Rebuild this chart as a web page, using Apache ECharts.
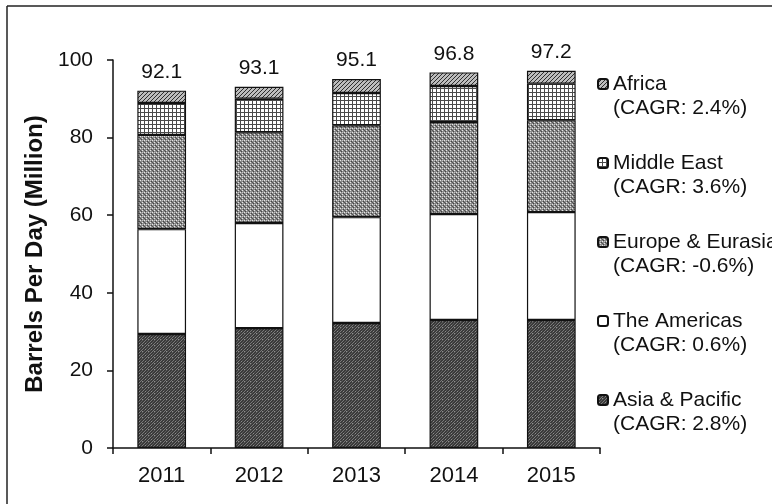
<!DOCTYPE html>
<html>
<head>
<meta charset="utf-8">
<script src="https://cdn.jsdelivr.net/npm/echarts@6/dist/echarts.min.js"></script>
<style>
  html, body { margin: 0; padding: 0; background: #ffffff; }
  #chart { width: 772px; height: 504px; }
</style>
</head>
<body>
<div id="chart"></div>
<script>
// World oil demand by region, million barrels per day
const years = ['2011', '2012', '2013', '2014', '2015'];
const asiaPacific   = [29.4, 30.9, 32.2, 33.0, 33.0];
const americas      = [27.0, 27.1, 27.3, 27.3, 27.8];
const europeEurasia = [24.3, 23.4, 23.7, 23.7, 23.7];
const middleEast    = [8.2, 8.6, 8.3, 9.3, 9.4];
const africa        = [3.2, 3.1, 3.6, 3.5, 3.3];
const regionNames = ['Asia & Pacific', 'The Americas', 'Europe & Eurasia', 'Middle East', 'Africa'];
const regionCagr  = ['2.8%', '0.6%', '-0.6%', '3.6%', '2.4%'];
const yTicks = { min: 0, max: 100, interval: 20 };

// Small tiled fills imitating the print hatches
function tile(size, draw) {
  const c = document.createElement('canvas');
  c.width = size; c.height = size;
  const g = c.getContext('2d');
  draw(g, size);
  return { image: c, repeat: 'repeat' };
}
function px(g, x, y, col) { g.fillStyle = col; g.fillRect(x, y, 1, 1); }

const fillAsia = tile(6, (g, s) => {
  g.fillStyle = '#3a3a3a'; g.fillRect(0, 0, s, s);
  for (let i = 0; i < s; i++) { px(g, i, (s - 1 - i) % s, '#7a7a7a'); px(g, (i + 3) % s, (s - 1 - i) % s, '#5e5e5e'); }
  px(g, 1, 1, '#8c8c8c'); px(g, 4, 3, '#8c8c8c');
});
const fillAmericas = '#ffffff';
const fillEurope = tile(4, (g, s) => {
  g.fillStyle = '#8a8a8a'; g.fillRect(0, 0, s, s);
  px(g, 0, 0, '#e6e6e6'); px(g, 2, 2, '#e6e6e6'); px(g, 1, 3, '#444444'); px(g, 3, 1, '#444444');
  px(g, 2, 0, '#c4c4c4'); px(g, 0, 2, '#565656');
});
const fillMiddleEast = tile(4, (g, s) => {
  g.fillStyle = '#ffffff'; g.fillRect(0, 0, s, s);
  g.fillStyle = '#4a4a4a'; g.fillRect(0, 0, 1, s); g.fillRect(0, 0, s, 1);
});
const fillAfrica = tile(4, (g, s) => {
  g.fillStyle = '#bdbdbd'; g.fillRect(0, 0, s, s);
  for (let i = 0; i < s; i++) px(g, i, s - 1 - i, '#2e2e2e');
});

const seriesValues = [asiaPacific, americas, europeEurasia, middleEast, africa];
const seriesFills = [fillAsia, fillAmericas, fillEurope, fillMiddleEast, fillAfrica];

function stackTotal(i) {
  return seriesValues.reduce((s, arr) => s + arr[i], 0);
}

const font = '"Liberation Sans", Arial, sans-serif';

const series = regionNames.map((name, k) => {
  const s = {
    name: name,
    type: 'bar',
    stack: 'demand',
    barWidth: '50%',
    data: seriesValues[k],
    itemStyle: { color: seriesFills[k], borderColor: '#111111', borderWidth: 1.2 },
    emphasis: { disabled: true }
  };
  if (k === regionNames.length - 1) {
    s.label = {
      show: true,
      position: 'top',
      distance: 8,
      fontFamily: font,
      fontSize: 21,
      color: '#111111',
      formatter: p => stackTotal(p.dataIndex).toFixed(1)
    };
  }
  return s;
});

const legendOrder = regionNames.slice().reverse();
const cagrByName = {};
regionNames.forEach((n, i) => { cagrByName[n] = regionCagr[i]; });

const chart = echarts.init(document.getElementById('chart'), null, { renderer: 'canvas' });
chart.setOption({
  animation: false,
  backgroundColor: '#ffffff',
  grid: { left: 113, right: 172, top: 60, bottom: 56 },
  graphic: [
    { type: 'line', shape: { x1: 7, y1: 6, x2: 772, y2: 6 }, style: { stroke: '#222', lineWidth: 1.5 } },
    { type: 'line', shape: { x1: 7, y1: 6, x2: 7, y2: 504 }, style: { stroke: '#222', lineWidth: 1.5 } }
  ],
  legend: {
    orient: 'vertical',
    left: 597,
    top: 48,
    padding: 0,
    itemWidth: 10,
    itemHeight: 10,
    itemGap: 7,
    data: legendOrder,
    selectedMode: false,
    textStyle: {
      fontFamily: font,
      fontSize: 21,
      color: '#111111',
      lineHeight: 24
    },
    // leading blank line keeps the swatch level with the region name
    formatter: name => '\n' + name + '\n(CAGR: ' + cagrByName[name] + ')'
  },
  xAxis: {
    type: 'category',
    data: years,
    axisLine: { lineStyle: { color: '#111111', width: 1.5 } },
    axisTick: { show: true, length: 6, lineStyle: { color: '#111111', width: 1.5 } },
    axisLabel: { fontFamily: font, fontSize: 22, color: '#111111', margin: 17 }
  },
  yAxis: {
    type: 'value',
    min: yTicks.min,
    max: yTicks.max,
    interval: yTicks.interval,
    name: 'Barrels Per Day (Million)',
    nameLocation: 'middle',
    nameGap: 56,
    nameTextStyle: { fontFamily: font, fontSize: 24, fontWeight: 'bold', color: '#111111' },
    axisLine: { show: true, lineStyle: { color: '#111111', width: 1.5 } },
    axisTick: { show: true, length: 6, lineStyle: { color: '#111111', width: 1.5 } },
    axisLabel: { fontFamily: font, fontSize: 21, color: '#111111', margin: 20 },
    splitLine: { show: false }
  },
  series: series
});
</script>
</body>
</html>
